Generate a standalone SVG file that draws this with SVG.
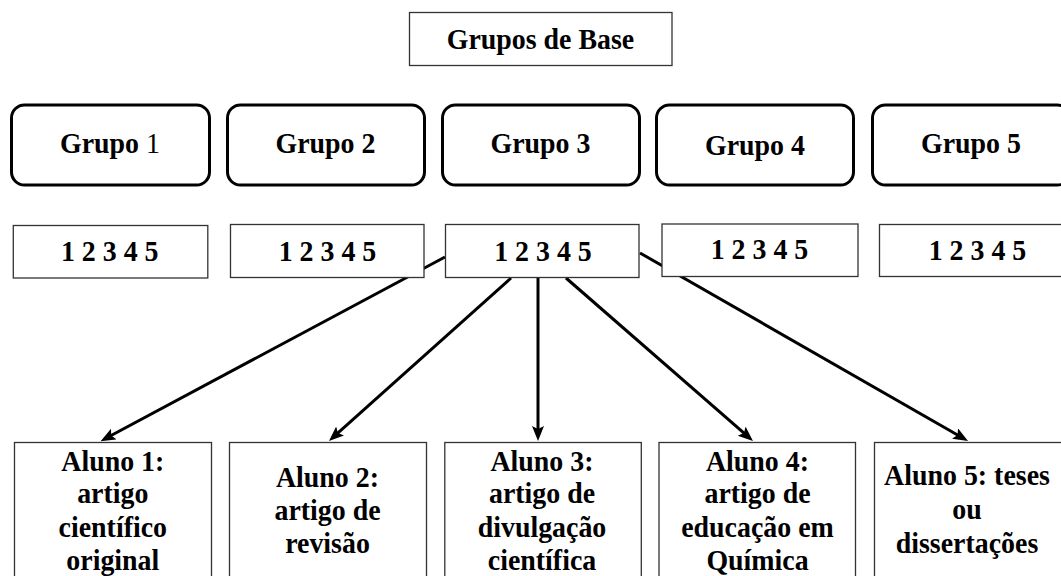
<svg xmlns="http://www.w3.org/2000/svg" width="1061" height="576" viewBox="0 0 1061 576">
<style>
text{font-family:'Liberation Serif','Times New Roman','DejaVu Serif',serif;font-weight:700;font-size:30px;fill:#000;text-anchor:middle;transform-box:fill-box;transform-origin:center;transform:scaleX(0.93)}
.thin{fill:#fff;stroke:#333;stroke-width:1.3}
.grp{fill:#fff;stroke:#000;stroke-width:3}
.conn{stroke:#000;stroke-width:3;fill:none;marker-end:url(#ah)}
.n{font-weight:400}
</style>
<defs>
<marker id="ah" markerUnits="userSpaceOnUse" markerWidth="17" markerHeight="13" refX="10" refY="6" orient="auto" viewBox="0 0 17 13">
<path d="M0,0 L15,6 L0,12 L3,6 z" fill="#000"/>
</marker>
</defs>
<g id="connectors">
<line class="conn" x1="445" y1="257" x2="105" y2="438.8"/>
<line class="conn" x1="511" y1="278" x2="332.7" y2="437.7"/>
<line class="conn" x1="538" y1="278" x2="538" y2="436"/>
<line class="conn" x1="566" y1="278" x2="749.2" y2="437.7"/>
<line class="conn" x1="640" y1="253" x2="963.7" y2="438.5"/>
</g>
<g id="title">
<rect class="thin" x="409.5" y="12.5" width="262.5" height="53"/>
<text x="540.5" y="49.3">Grupos de Base</text>
</g>
<g id="grupo1">
<rect class="grp" x="11.5" y="105" width="198" height="80" rx="13"/>
<text x="110" y="153.3">Grupo <tspan class="n">1</tspan></text>
</g>
<g id="grupo2">
<rect class="grp" x="227.5" y="105" width="197" height="80" rx="13"/>
<text x="325.5" y="153.3">Grupo 2</text>
</g>
<g id="grupo3">
<rect class="grp" x="442.5" y="105" width="197" height="80" rx="13"/>
<text x="540.5" y="153.3">Grupo 3</text>
</g>
<g id="grupo4">
<rect class="grp" x="656.5" y="105" width="197" height="80" rx="13"/>
<text x="755" y="155.3">Grupo 4</text>
</g>
<g id="grupo5">
<rect class="grp" x="872.5" y="105" width="198" height="80" rx="13"/>
<text x="971" y="153.3">Grupo 5</text>
</g>
<g id="num1">
<rect class="thin" x="13.3" y="225.5" width="194.5" height="52.5"/>
<text x="109.7" y="261">1 2 3 4 5</text>
</g>
<g id="num2">
<rect class="thin" x="230.5" y="224.5" width="193.5" height="53"/>
<text x="327.5" y="261">1 2 3 4 5</text>
</g>
<g id="num3">
<rect class="thin" x="445.5" y="224.5" width="193.5" height="53"/>
<text x="543" y="260.7">1 2 3 4 5</text>
</g>
<g id="num4">
<rect class="thin" x="662" y="224" width="196" height="52.5"/>
<text x="759.5" y="259.3">1 2 3 4 5</text>
</g>
<g id="num5">
<rect class="thin" x="879.5" y="224.5" width="196" height="52"/>
<text x="977.5" y="260">1 2 3 4 5</text>
</g>
<g id="aluno1">
<rect class="thin" x="14.5" y="442.5" width="197" height="200"/>
<text x="112.8" y="471">Aluno 1:</text>
<text x="112.8" y="503.5">artigo</text>
<text x="112.8" y="537">científico</text>
<text x="112.8" y="570">original</text>
</g>
<g id="aluno2">
<rect class="thin" x="229.5" y="442.5" width="197" height="200"/>
<text x="327.5" y="487">Aluno 2:</text>
<text x="327.5" y="520">artigo de</text>
<text x="327.5" y="553.3">revisão</text>
</g>
<g id="aluno3">
<rect class="thin" x="444.8" y="442.5" width="196.5" height="200"/>
<text x="542" y="471">Aluno 3:</text>
<text x="542" y="503.5">artigo de</text>
<text x="542" y="537">divulgação</text>
<text x="542" y="570">científica</text>
</g>
<g id="aluno4">
<rect class="thin" x="659" y="442.5" width="196.5" height="200"/>
<text x="757.5" y="471">Aluno 4:</text>
<text x="757.5" y="503.5">artigo de</text>
<text x="757.5" y="537">educação em</text>
<text x="757.5" y="570">Química</text>
</g>
<g id="aluno5">
<rect class="thin" x="874.5" y="442.5" width="198" height="200"/>
<text x="967" y="485">Aluno 5: teses</text>
<text x="967" y="519">ou</text>
<text x="967" y="553">dissertações</text>
</g>
</svg>
